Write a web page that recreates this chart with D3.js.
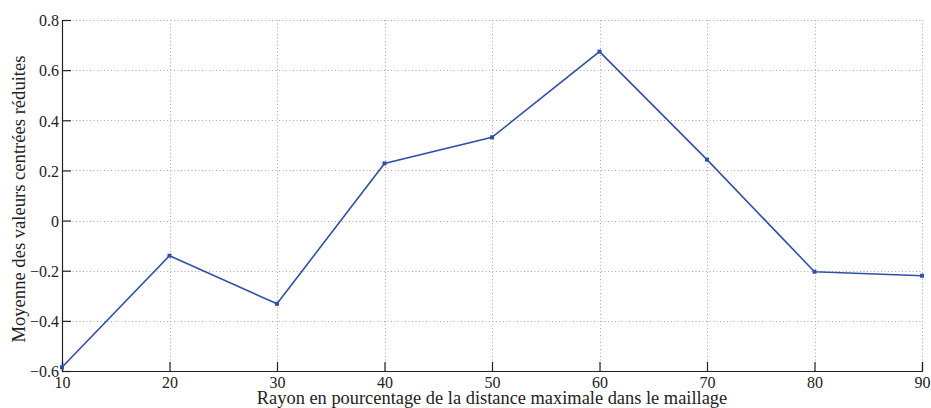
<!DOCTYPE html>
<html>
<head>
<meta charset="utf-8">
<script src="https://cdn.jsdelivr.net/npm/d3@7/dist/d3.min.js"></script>
<style>
  html, body { margin: 0; padding: 0; background: #fff; }
  svg, svg text { font-family: "Liberation Serif", "Times New Roman", serif !important; }
</style>
</head>
<body>
<svg id="chart" width="931" height="408"></svg>
<script>
// Rayon (% de la distance maximale) et moyenne des valeurs centrées réduites
const rayons = [10, 20, 30, 40, 50, 60, 70, 80, 90];
const moyennes = [-0.585, -0.140, -0.332, 0.228, 0.332, 0.674, 0.243, -0.204, -0.220];
const xTicks = [10, 20, 30, 40, 50, 60, 70, 80, 90];
const yTicks = [-0.6, -0.4, -0.2, 0, 0.2, 0.4, 0.6, 0.8];
const xLabel = "Rayon en pourcentage de la distance maximale dans le maillage";
const yLabel = "Moyenne des valeurs centrées réduites";

const svg = d3.select("#chart");
const margin = { left: 62, right: 9, top: 20, bottom: 37 };
const W = 931, H = 408;
const iw = W - margin.left - margin.right;
const ih = H - margin.top - margin.bottom;

const x = d3.scaleLinear().domain([10, 90]).range([0, iw]);
const y = d3.scaleLinear().domain([-0.6, 0.8]).range([ih, 0]);

const g = svg.append("g").attr("transform", `translate(${margin.left},${margin.top})`);

// dotted grid
const grid = g.append("g").attr("stroke", "#a8a8a8").attr("stroke-width", 1)
  .attr("stroke-dasharray", "1,2.5").attr("fill", "none");
xTicks.forEach(t => {
  if (t === 10) return;
  grid.append("line").attr("x1", Math.round(x(t)) + 0.5).attr("x2", Math.round(x(t)) + 0.5)
    .attr("y1", 0).attr("y2", ih);
});
yTicks.forEach(t => {
  if (t === -0.6) return;
  grid.append("line").attr("y1", Math.round(y(t)) + 0.5).attr("y2", Math.round(y(t)) + 0.5)
    .attr("x1", 0).attr("x2", iw);
});

const fmt = d => d === 0 ? "0" : d3.format(".1f")(d).replace("-", "\u2212");

// axes with inward ticks
const xAxis = g.append("g").attr("transform", `translate(0,${ih})`)
  .call(d3.axisBottom(x).tickValues(xTicks).tickSize(-9).tickPadding(16).tickFormat(d3.format("d")));
const yAxis = g.append("g")
  .call(d3.axisLeft(y).tickValues(yTicks).tickSize(-9).tickPadding(14).tickFormat(fmt));

[xAxis, yAxis].forEach(a => {
  a.attr("font-family", null).attr("font-size", null);
  a.select(".domain").attr("stroke", "#222").attr("stroke-width", 1.2);
  a.selectAll(".tick line").attr("stroke", "#222").attr("stroke-width", 1.2);
  a.selectAll("text").style("font-size", "16px").attr("fill", "#222");
});
xAxis.selectAll("text").attr("dy", null).attr("y", 17);
yAxis.selectAll("text").attr("x", -3).attr("dy", "0.36em");

// series
const color = "#2f4fac";
const line = d3.line().x((d, i) => x(rayons[i])).y(d => y(d));
g.append("path").datum(moyennes).attr("d", line)
  .attr("fill", "none").attr("stroke", color).attr("stroke-width", 1.6)
  .attr("stroke-linejoin", "miter");
g.selectAll(".pt").data(moyennes).enter().append("rect").attr("class", "pt")
  .attr("x", (d, i) => x(rayons[i]) - 2).attr("y", d => y(d) - 2)
  .attr("width", 4).attr("height", 4).attr("fill", color);

// axis titles
svg.append("text").attr("x", margin.left + iw / 2).attr("y", 403.5)
  .attr("text-anchor", "middle").style("font-size", "18.4px").attr("fill", "#222")
  .text(xLabel);
svg.append("text")
  .attr("transform", `translate(25,199) rotate(-90)`)
  .attr("text-anchor", "middle").style("font-size", "18.6px").attr("fill", "#222")
  .text(yLabel);
</script>
</body>
</html>
